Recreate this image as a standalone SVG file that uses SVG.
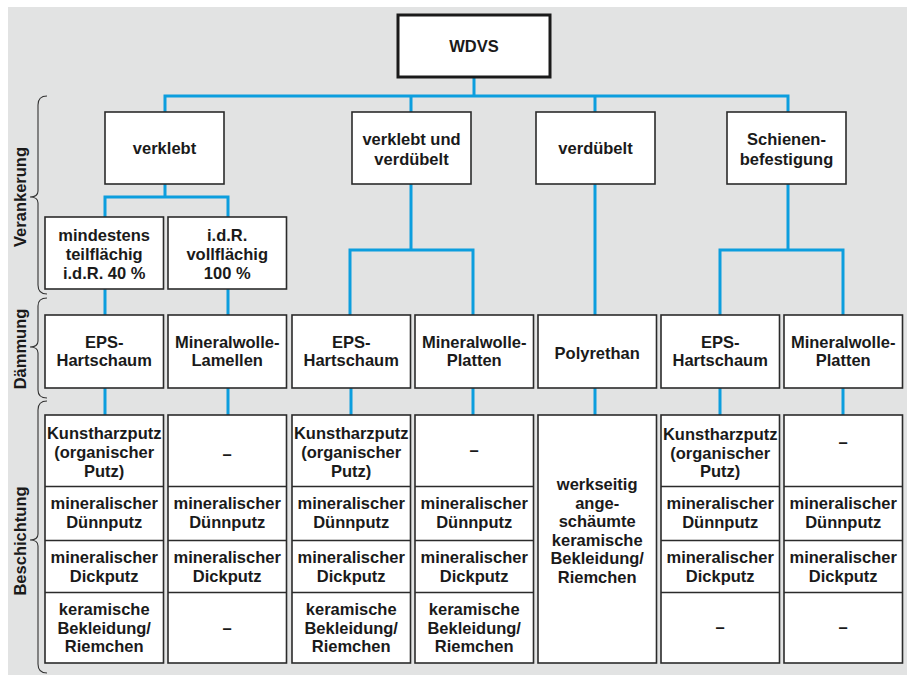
<svg xmlns="http://www.w3.org/2000/svg" width="909" height="675" viewBox="0 0 909 675">
<style>
.bg{fill:#e2e3e3}
.box{fill:#fff;stroke:#2b2b2b;stroke-width:1.6}
.top{fill:#fff;stroke:#1a1a1a;stroke-width:3}
.div{stroke:#2b2b2b;stroke-width:1.3}
.c{fill:none;stroke:#0c9ede;stroke-width:3}
.br{fill:none;stroke:#333;stroke-width:1.1}
text{font-family:"Liberation Sans",Arial,sans-serif;font-weight:bold;font-size:16.5px;fill:#1a1a1a;text-anchor:middle}
</style>
<rect x="0" y="0" width="909" height="675" fill="#fff"/>
<rect class="bg" x="8" y="7" width="899" height="668"/>

<g id="connectors">
<path class="c" d="M474 77V96"/>
<path class="c" d="M165 112V96H788V112M411 96V112M595 96V112"/>
<path class="c" d="M165 184V197M105 217V197H228V217"/>
<path class="c" d="M411 184V250M350 315V250H473V315"/>
<path class="c" d="M595 184V315"/>
<path class="c" d="M788 184V250M720 315V250H843V315"/>
<path class="c" d="M105 289V315M228 289V315"/>
<path class="c" d="M105 388V415M228 388V415M351 388V415M473 388V415M595 388V415M720 388V415M843 388V415"/>
</g>

<g id="labels">
<path class="br" d="M47 96Q38 96 38 105V191Q38 197 30 197Q38 197 38 203V285Q38 294 47 294"/>
<path class="br" d="M47 298Q38 298 38 306V341Q38 347 30 347Q38 347 38 353V390Q38 398 47 398"/>
<path class="br" d="M47 401Q38 401 38 410V534Q38 540 30 540Q38 540 38 546V664Q38 673 47 673"/>
<text transform="translate(26 197) rotate(-90)">Verankerung</text>
<text transform="translate(26 349) rotate(-90)">Dämmung</text>
<text transform="translate(26 541) rotate(-90)">Beschichtung</text>
</g>

<g id="wdvs"><rect class="top" x="398" y="15" width="152" height="62"/><text x="474" y="52">WDVS</text></g>

<g id="verklebt"><rect class="box" x="105" y="112" width="119" height="72"/><text x="164.5" y="154">verklebt</text></g>
<g id="verklebt-verduebelt"><rect class="box" x="352" y="112" width="119" height="72"/><text x="411.5" y="145">verklebt und</text><text x="411.5" y="164.5">verdübelt</text></g>
<g id="verduebelt"><rect class="box" x="536" y="112" width="119" height="72"/><text x="595.5" y="154">verdübelt</text></g>
<g id="schienen"><rect class="box" x="727" y="112" width="119" height="72"/><text x="786.5" y="145">Schienen-</text><text x="786.5" y="164.5">befestigung</text></g>

<g id="teilflaechig"><rect class="box" x="45" y="217" width="118.5" height="72"/><text x="104.2" y="240.5">mindestens</text><text x="104.2" y="259.5">teilflächig</text><text x="104.2" y="278.5">i.d.R. 40 %</text></g>
<g id="vollflaechig"><rect class="box" x="168" y="217" width="118.5" height="72"/><text x="227.2" y="240.5">i.d.R.</text><text x="227.2" y="259.5">vollflächig</text><text x="227.2" y="278.5">100 %</text></g>

<g id="d1"><rect class="box" x="45" y="315" width="118.5" height="73"/><text x="104.2" y="348">EPS-</text><text x="104.2" y="366">Hartschaum</text></g>
<g id="d2"><rect class="box" x="168" y="315" width="118.5" height="73"/><text x="227.2" y="348">Mineralwolle-</text><text x="227.2" y="366">Lamellen</text></g>
<g id="d3"><rect class="box" x="292" y="315" width="118.5" height="73"/><text x="351.2" y="348">EPS-</text><text x="351.2" y="366">Hartschaum</text></g>
<g id="d4"><rect class="box" x="415" y="315" width="118.5" height="73"/><text x="474.2" y="348">Mineralwolle-</text><text x="474.2" y="366">Platten</text></g>
<g id="d5"><rect class="box" x="538" y="315" width="118.5" height="73"/><text x="597.2" y="359">Polyrethan</text></g>
<g id="d6"><rect class="box" x="661" y="315" width="118.5" height="73"/><text x="720.2" y="348">EPS-</text><text x="720.2" y="366">Hartschaum</text></g>
<g id="d7"><rect class="box" x="784" y="315" width="118.5" height="73"/><text x="843.2" y="348">Mineralwolle-</text><text x="843.2" y="366">Platten</text></g>

<g id="b1"><rect class="box" x="45" y="415" width="118.5" height="248"/>
<path class="div" d="M45 486.5H163.5M45 540.5H163.5M45 592.5H163.5"/>
<text x="104.2" y="439">Kunstharzputz</text><text x="104.2" y="458">(organischer</text><text x="104.2" y="477">Putz)</text>
<text x="104.2" y="509">mineralischer</text><text x="104.2" y="528">Dünnputz</text>
<text x="104.2" y="563">mineralischer</text><text x="104.2" y="582">Dickputz</text>
<text x="104.2" y="615">keramische</text><text x="104.2" y="634">Bekleidung/</text><text x="104.2" y="652">Riemchen</text></g>

<g id="b2"><rect class="box" x="168" y="415" width="118.5" height="248"/>
<path class="div" d="M168 486.5H286.5M168 540.5H286.5M168 592.5H286.5"/>
<text x="227.2" y="460">–</text>
<text x="227.2" y="509">mineralischer</text><text x="227.2" y="528">Dünnputz</text>
<text x="227.2" y="563">mineralischer</text><text x="227.2" y="582">Dickputz</text>
<text x="227.2" y="634">–</text></g>

<g id="b3"><rect class="box" x="292" y="415" width="118.5" height="248"/>
<path class="div" d="M292 486.5H410.5M292 540.5H410.5M292 592.5H410.5"/>
<text x="351.2" y="439">Kunstharzputz</text><text x="351.2" y="458">(organischer</text><text x="351.2" y="477">Putz)</text>
<text x="351.2" y="509">mineralischer</text><text x="351.2" y="528">Dünnputz</text>
<text x="351.2" y="563">mineralischer</text><text x="351.2" y="582">Dickputz</text>
<text x="351.2" y="615">keramische</text><text x="351.2" y="634">Bekleidung/</text><text x="351.2" y="652">Riemchen</text></g>

<g id="b4"><rect class="box" x="415" y="415" width="118.5" height="248"/>
<path class="div" d="M415 486.5H533.5M415 540.5H533.5M415 592.5H533.5"/>
<text x="474.2" y="456">–</text>
<text x="474.2" y="509">mineralischer</text><text x="474.2" y="528">Dünnputz</text>
<text x="474.2" y="563">mineralischer</text><text x="474.2" y="582">Dickputz</text>
<text x="474.2" y="615">keramische</text><text x="474.2" y="634">Bekleidung/</text><text x="474.2" y="652">Riemchen</text></g>

<g id="b5"><rect class="box" x="538" y="415" width="118.5" height="248"/>
<text x="597.2" y="490">werkseitig</text><text x="597.2" y="508.5">ange-</text><text x="597.2" y="527">schäumte</text><text x="597.2" y="545.5">keramische</text><text x="597.2" y="564">Bekleidung/</text><text x="597.2" y="582.5">Riemchen</text></g>

<g id="b6"><rect class="box" x="661" y="415" width="118.5" height="248"/>
<path class="div" d="M661 486.5H779.5M661 540.5H779.5M661 592.5H779.5"/>
<text x="720.2" y="440">Kunstharzputz</text><text x="720.2" y="459">(organischer</text><text x="720.2" y="477">Putz)</text>
<text x="720.2" y="509">mineralischer</text><text x="720.2" y="528">Dünnputz</text>
<text x="720.2" y="563">mineralischer</text><text x="720.2" y="582">Dickputz</text>
<text x="720.2" y="633">–</text></g>

<g id="b7"><rect class="box" x="784" y="415" width="118.5" height="248"/>
<path class="div" d="M784 486.5H902.5M784 540.5H902.5M784 592.5H902.5"/>
<text x="843.2" y="448">–</text>
<text x="843.2" y="509">mineralischer</text><text x="843.2" y="528">Dünnputz</text>
<text x="843.2" y="563">mineralischer</text><text x="843.2" y="582">Dickputz</text>
<text x="843.2" y="633">–</text></g>
</svg>
